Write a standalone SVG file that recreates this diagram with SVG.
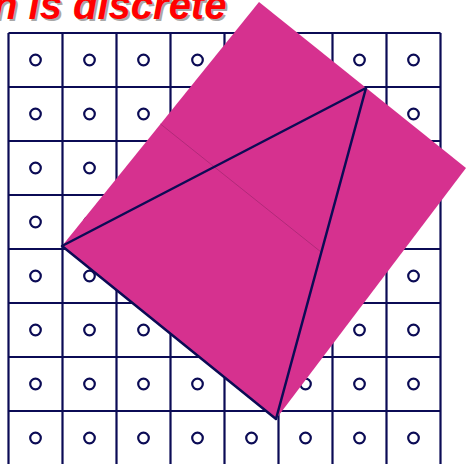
<svg xmlns="http://www.w3.org/2000/svg" width="467" height="464" viewBox="0 0 467 464">
<defs>
<style>
.g{stroke:#0b0b55;stroke-width:2.2;fill:none}
.c{stroke:#0b0b55;stroke-width:2.2;fill:#fff}
.t{font-family:"Liberation Sans",Arial,sans-serif;font-weight:bold;font-style:italic;font-size:40px}
</style>
<circle id="dot" r="5.3" class="c"/>
</defs>
<rect width="467" height="464" fill="#fff"/>
<g id="title">
<text class="t" x="-5" y="21" fill="#a8a8a8">n is discrete</text>
<text class="t" x="-7" y="19" fill="#ff0000">n is discrete</text>
</g>
<g id="grid" class="g">
<path d="M8.5 33V464M62.5 33V464M116.5 33V464M170.5 33V464M224.5 33V464M278.5 33V464M332.5 33V464M386.5 33V464M440.5 33V464"/>
<path d="M8.5 33H440.5M8.5 87H440.5M8.5 141H440.5M8.5 195H440.5M8.5 249H440.5M8.5 303H440.5M8.5 357H440.5M8.5 411H440.5"/>
</g>
<g id="dots">
<use href="#dot" x="35.5" y="60"/><use href="#dot" x="89.5" y="60"/><use href="#dot" x="143.5" y="60"/><use href="#dot" x="197.5" y="60"/><use href="#dot" x="251.5" y="60"/><use href="#dot" x="305.5" y="60"/><use href="#dot" x="359.5" y="60"/><use href="#dot" x="413.5" y="60"/>
<use href="#dot" x="35.5" y="114"/><use href="#dot" x="89.5" y="114"/><use href="#dot" x="143.5" y="114"/><use href="#dot" x="197.5" y="114"/><use href="#dot" x="251.5" y="114"/><use href="#dot" x="305.5" y="114"/><use href="#dot" x="359.5" y="114"/><use href="#dot" x="413.5" y="114"/>
<use href="#dot" x="35.5" y="168"/><use href="#dot" x="89.5" y="168"/><use href="#dot" x="143.5" y="168"/><use href="#dot" x="197.5" y="168"/><use href="#dot" x="251.5" y="168"/><use href="#dot" x="305.5" y="168"/><use href="#dot" x="359.5" y="168"/><use href="#dot" x="413.5" y="168"/>
<use href="#dot" x="35.5" y="222"/><use href="#dot" x="89.5" y="222"/><use href="#dot" x="143.5" y="222"/><use href="#dot" x="197.5" y="222"/><use href="#dot" x="251.5" y="222"/><use href="#dot" x="305.5" y="222"/><use href="#dot" x="359.5" y="222"/><use href="#dot" x="413.5" y="222"/>
<use href="#dot" x="35.5" y="276"/><use href="#dot" x="89.5" y="276"/><use href="#dot" x="143.5" y="276"/><use href="#dot" x="197.5" y="276"/><use href="#dot" x="251.5" y="276"/><use href="#dot" x="305.5" y="276"/><use href="#dot" x="359.5" y="276"/><use href="#dot" x="413.5" y="276"/>
<use href="#dot" x="35.5" y="330"/><use href="#dot" x="89.5" y="330"/><use href="#dot" x="143.5" y="330"/><use href="#dot" x="197.5" y="330"/><use href="#dot" x="251.5" y="330"/><use href="#dot" x="305.5" y="330"/><use href="#dot" x="359.5" y="330"/><use href="#dot" x="413.5" y="330"/>
<use href="#dot" x="35.5" y="384"/><use href="#dot" x="89.5" y="384"/><use href="#dot" x="143.5" y="384"/><use href="#dot" x="197.5" y="384"/><use href="#dot" x="251.5" y="384"/><use href="#dot" x="305.5" y="384"/><use href="#dot" x="359.5" y="384"/><use href="#dot" x="413.5" y="384"/>
<use href="#dot" x="35.5" y="438"/><use href="#dot" x="89.5" y="438"/><use href="#dot" x="143.5" y="438"/><use href="#dot" x="197.5" y="438"/><use href="#dot" x="251.5" y="438"/><use href="#dot" x="305.5" y="438"/><use href="#dot" x="359.5" y="438"/><use href="#dot" x="413.5" y="438"/>
</g>
<g id="square">
<polygon points="259,2 466,168 276,419 62,246" fill="#d6318f"/>
<line x1="160.5" y1="124" x2="321" y2="252" stroke="#a82774" stroke-width="0.8"/>
</g>
<g id="triangle">
<polygon points="62,246 366,88 276,419" fill="none" stroke="#0b0b55" stroke-width="2.5" stroke-linejoin="round"/>
</g>
</svg>
